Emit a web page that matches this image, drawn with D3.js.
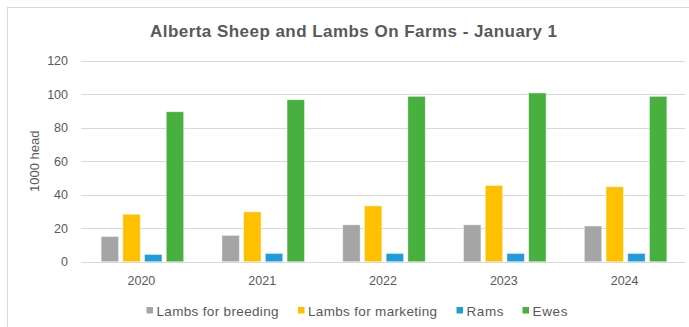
<!DOCTYPE html>
<html>
<head>
<meta charset="utf-8">
<script src="https://cdn.jsdelivr.net/npm/d3@7"></script>
<style>
  body { margin: 0; background: #fff; }
  text { font-family: "Liberation Sans", Arial, sans-serif; }
</style>
</head>
<body>
<script>
const width = 689;
const height = 327;

const years = ["2020", "2021", "2022", "2023", "2024"];
const seriesNames = ["Lambs for breeding", "Lambs for marketing", "Rams", "Ewes"];
const seriesColors = ["#A5A5A5", "#FFC000", "#219CDA", "#47B03F"];
const lambsBreeding = [15, 15.7, 22, 22, 21.3];
const lambsMarketing = [28.3, 29.7, 33.3, 45.5, 44.7];
const rams = [4.3, 4.9, 4.9, 4.9, 4.9];
const ewes = [89.5, 96.7, 98.7, 100.7, 98.7];
const yTicks = [0, 20, 40, 60, 80, 100, 120];

const seriesValues = [lambsBreeding, lambsMarketing, rams, ewes];

// plot box
const plotLeft = 81, plotRight = 685, plotTop = 60.7, plotBottom = 261.7;

const svg = d3.select("body")
    .append("svg")
    .attr("width", width)
    .attr("height", height);

// chart frame
svg.append("rect")
    .attr("x", 7.5)
    .attr("y", 7.5)
    .attr("width", 700)
    .attr("height", 340)
    .attr("fill", "none")
    .attr("stroke", "#D9D9D9");

svg.append("text")
    .attr("x", 150)
    .attr("y", 37)
    .attr("font-size", "17px")
    .attr("font-weight", "bold")
    .attr("fill", "#595959")
    .attr("textLength", 407)
    .text("Alberta Sheep and Lambs On Farms - January 1");

const x0 = d3.scaleBand().domain(years).range([plotLeft, plotRight]);
const groupWidth = 82.5;
const x1 = d3.scaleBand()
    .domain(seriesNames)
    .range([(x0.bandwidth() - groupWidth) / 2 + 1, (x0.bandwidth() + groupWidth) / 2 + 1])
    .paddingInner(0.2);
const y = d3.scaleLinear().domain([0, 120]).range([plotBottom, plotTop]);

// gridlines
svg.append("g")
    .selectAll("line")
    .data(yTicks)
    .join("line")
    .attr("x1", plotLeft)
    .attr("x2", plotRight)
    .attr("y1", d => Math.round(y(d)) + 0.5)
    .attr("y2", d => Math.round(y(d)) + 0.5)
    .attr("stroke", "#D9D9D9")
    .attr("stroke-width", 1);

const yAxis = svg.append("g")
    .attr("transform", `translate(${plotLeft - 13},0)`)
    .call(d3.axisLeft(y).tickValues(yTicks).tickSize(0).tickPadding(0));
yAxis.select(".domain").remove();
yAxis.selectAll("text")
    .attr("font-size", "12.5px")
    .attr("font-family", "Liberation Sans, Arial, sans-serif")
    .attr("fill", "#595959");

svg.append("text")
    .attr("transform", `translate(39,${(plotTop + plotBottom) / 2}) rotate(-90)`)
    .attr("text-anchor", "middle")
    .attr("font-size", "13px")
    .attr("fill", "#595959")
    .text("1000 head");

// bars
years.forEach((year, i) => {
    const g = svg.append("g").attr("transform", `translate(${x0(year)},0)`);
    seriesNames.forEach((name, j) => {
        const v = seriesValues[j][i];
        g.append("rect")
            .attr("x", x1(name))
            .attr("y", y(v))
            .attr("width", x1.bandwidth())
            .attr("height", y(0) - y(v))
            .attr("fill", seriesColors[j])
            .attr("stroke", "#fff")
            .attr("stroke-opacity", 0.5)
            .attr("stroke-width", 0.75);
    });
});

// baseline + year labels
svg.append("line")
    .attr("x1", plotLeft)
    .attr("x2", plotRight)
    .attr("y1", Math.round(plotBottom) + 0.5)
    .attr("y2", Math.round(plotBottom) + 0.5)
    .attr("stroke", "#D9D9D9");

const xAxis = svg.append("g")
    .attr("transform", `translate(0,${plotBottom + 14})`)
    .call(d3.axisBottom(x0).tickSize(0).tickPadding(0));
xAxis.select(".domain").remove();
xAxis.selectAll("text")
    .attr("font-size", "12.5px")
    .attr("font-family", "Liberation Sans, Arial, sans-serif")
    .attr("fill", "#595959");

// legend
const legendX = [146.5, 298, 456.5, 522.5];
const legendTextLen = [122, 129, 37, 35];
seriesNames.forEach((name, j) => {
    svg.append("rect")
        .attr("x", legendX[j])
        .attr("y", 307)
        .attr("width", 6.5)
        .attr("height", 6.5)
        .attr("fill", seriesColors[j]);
    svg.append("text")
        .attr("x", legendX[j] + 10)
        .attr("y", 315.5)
        .attr("font-size", "13.5px")
        .attr("fill", "#595959")
        .attr("textLength", legendTextLen[j])
        .text(name);
});
</script>
</body>
</html>
